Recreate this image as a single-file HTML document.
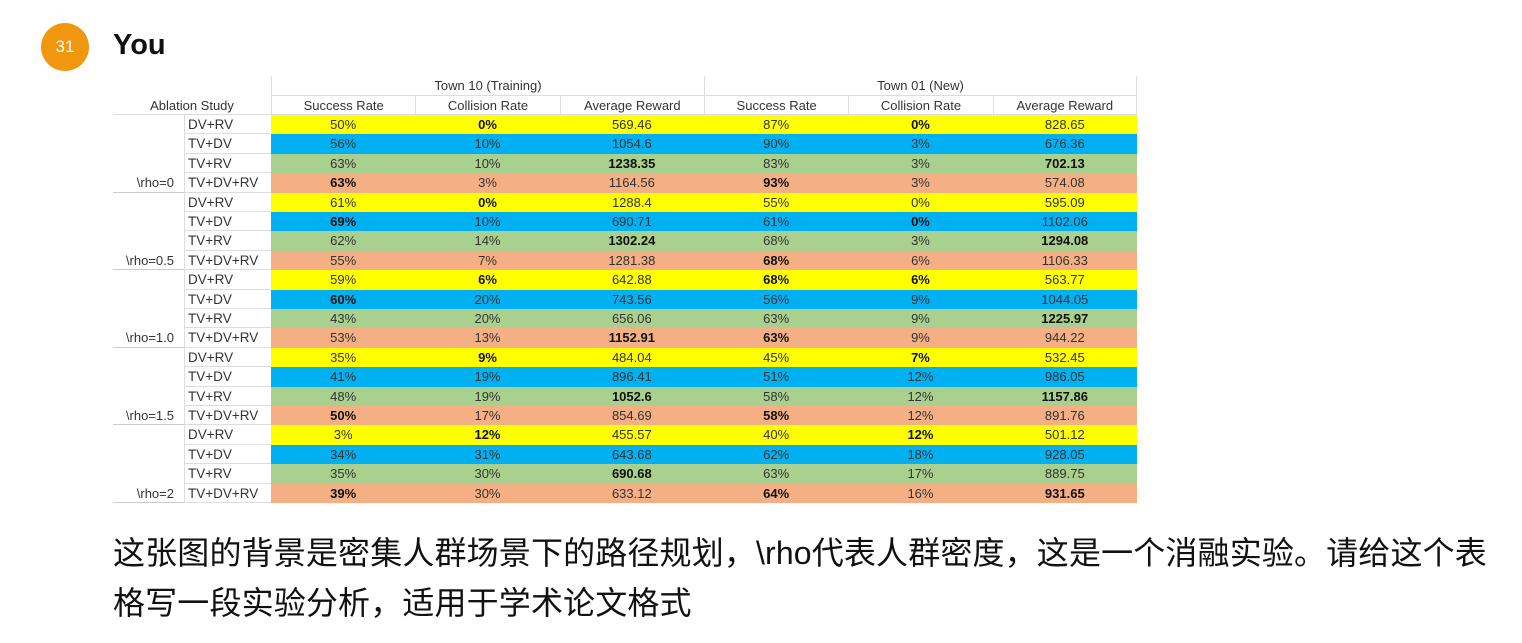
<!DOCTYPE html>
<html><head><meta charset="utf-8">
<style>
body{margin:0;width:1522px;height:643px;background:#fff;position:relative;overflow:hidden;font-family:"Liberation Sans","Noto Sans CJK SC",sans-serif;}
.abs{position:absolute;}
.cell{position:absolute;box-sizing:border-box;text-align:center;font-size:13px;color:#333;white-space:nowrap;}
.b{font-weight:bold;color:#111;}
</style></head>
<body>
<div class="abs" style="left:41px;top:23px;width:48px;height:48px;border-radius:50%;background:#F0960F;color:#fff;font-size:17px;line-height:48px;text-align:center;">31</div>
<div class="abs" style="left:113px;top:29px;font-size:29px;font-weight:bold;color:#111;">You</div>
<div class="abs" id="tbl" style="left:0;top:0;width:1522px;height:520px;"></div>
<div class="abs" style="left:113px;top:528px;width:1400px;font-size:32px;line-height:50px;letter-spacing:0.15px;color:#111;font-family:'Liberation Sans','Noto Sans CJK SC',sans-serif;">这张图的背景是密集人群场景下的路径规划，\rho代表人群密度，这是一个消融实验。请给这个表<br>格写一段实验分析，适用于学术论文格式</div>
<script>
const groups=["\\rho=0","\\rho=0.5","\\rho=1.0","\\rho=1.5","\\rho=2"];
const variants=["DV+RV","TV+DV","TV+RV","TV+DV+RV"];
const colors=["#FFFF00","#00B0F0","#A9D08E","#F4B084"];
const colHeads=["Success Rate","Collision Rate","Average Reward","Success Rate","Collision Rate","Average Reward"];
const values=[
["50%","*0%","569.46","87%","*0%","828.65"],
["56%","10%","1054.6","90%","3%","676.36"],
["63%","10%","*1238.35","83%","3%","*702.13"],
["*63%","3%","1164.56","*93%","3%","574.08"],
["61%","*0%","1288.4","55%","0%","595.09"],
["*69%","10%","690.71","61%","*0%","1102.06"],
["62%","14%","*1302.24","68%","3%","*1294.08"],
["55%","7%","1281.38","*68%","6%","1106.33"],
["59%","*6%","642.88","*68%","*6%","563.77"],
["*60%","20%","743.56","56%","9%","1044.05"],
["43%","20%","656.06","63%","9%","*1225.97"],
["53%","13%","*1152.91","*63%","9%","944.22"],
["35%","*9%","484.04","45%","*7%","532.45"],
["41%","19%","896.41","51%","12%","986.05"],
["48%","19%","*1052.6","58%","12%","*1157.86"],
["*50%","17%","854.69","*58%","12%","891.76"],
["3%","*12%","455.57","40%","*12%","501.12"],
["34%","31%","643.68","62%","18%","928.05"],
["35%","30%","*690.68","63%","17%","889.75"],
["*39%","30%","633.12","*64%","16%","*931.65"]
];
const T=document.getElementById('tbl');
const X0=113,XS=184,XD=271,CW=144.33,Y0=115,RH=19.4;
function mk(x,y,w,h,txt,style){const d=document.createElement('div');d.className='cell';d.style.left=x+'px';d.style.top=y+'px';d.style.width=w+'px';d.style.height=h+'px';d.style.lineHeight=h+'px';if(style)d.style.cssText+=style;d.textContent=txt;T.appendChild(d);return d;}
let e;
e=mk(X0,96,XD-X0,19,"Ablation Study","border-bottom:1px solid #ddd;");


e=mk(XD,76,CW*3,20,"Town 10 (Training)","border-left:1px solid #ddd;border-bottom:1px solid #ddd;");


e=mk(XD+CW*3,76,CW*3,20,"Town 01 (New)","border-left:1px solid #ddd;border-right:1px solid #ddd;border-bottom:1px solid #ddd;");


colHeads.forEach((h,i)=>{
 e=mk(XD+CW*i,96,CW,19,h,"border-left:1px solid #ddd;border-bottom:1px solid #ddd;"+(i==5?"border-right:1px solid #ddd;":""));
 
 
});
groups.forEach((g,gi)=>{
 e=mk(X0,Y0+gi*4*RH,XS-X0,4*RH,"","border-bottom:1px solid #ccc;");
 
 
 e=mk(X0,Y0+(gi*4+3)*RH,XS-X0,RH,g,"text-align:right;padding-right:10px;");
 
 
});
values.forEach((row,r)=>{
 const y=Y0+r*RH;
 e=mk(XS,y,XD-XS,RH,variants[r%4],"text-align:left;padding-left:3px;border-left:1px solid #ddd;border-bottom:1px solid #ddd;font-size:13.5px;");
 
 
 row.forEach((v,c)=>{
  const bold=v[0]=='*';
  e=mk(XD+CW*c,y,CW,RH+0.5,bold?v.slice(1):v,"background:"+colors[r%4]+";");
  if(bold)e.classList.add('b');
  
  
 });
});
</script>
</body></html>
